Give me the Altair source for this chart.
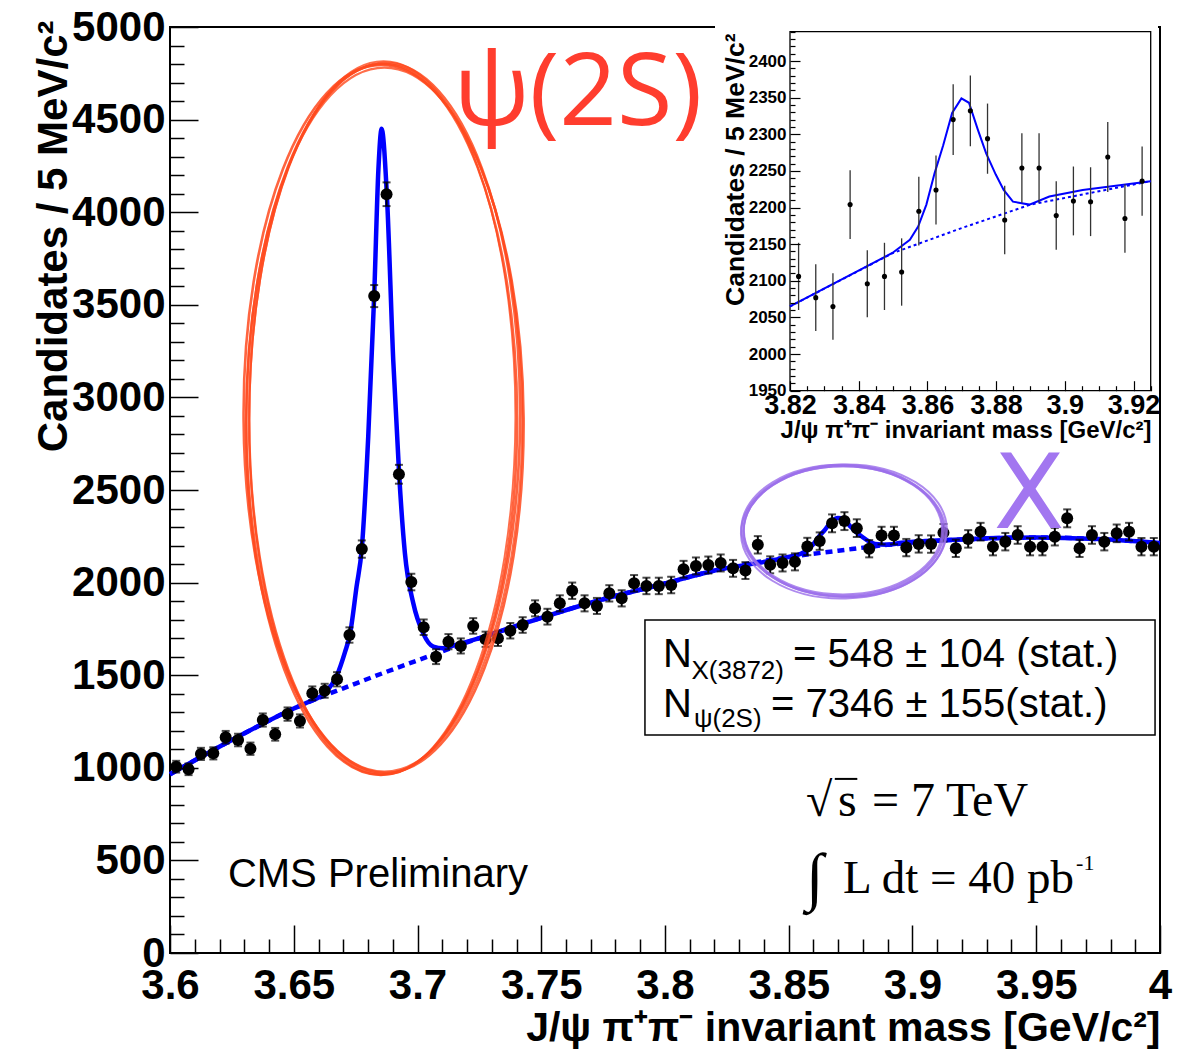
import altair as alt
import pandas as pd

# ---------------------------------------------------------------------------
# J/psi pi+ pi- candidates per 5 MeV bin, 3.600 - 4.000 GeV
# ---------------------------------------------------------------------------
BIN_LO = 3.600
BIN_W = 0.005
counts = [
    1006, 992, 1075, 1078, 1165, 1150, 1103, 1258, 1181, 1290,
    1253, 1402, 1416, 1478, 1717, 2181, 3547, 4097, 2585, 2003,
    1759, 1600, 1681, 1658, 1766, 1694, 1699, 1740, 1771, 1861,
    1816, 1888, 1956, 1888, 1874, 1942, 1915, 1996, 1982, 1982,
    1987, 2072, 2090, 2095, 2106, 2077, 2065, 2204, 2096, 2106,
    2112, 2195, 2224, 2320, 2332, 2294, 2183, 2254, 2254, 2189,
    2209, 2208, 2269, 2185, 2236, 2275, 2194, 2221, 2257, 2194,
    2194, 2248, 2347, 2185, 2257, 2221, 2266, 2275, 2194, 2194,
]
mass = [round(BIN_LO + BIN_W * (i + 0.5), 4) for i in range(len(counts))]

# background component of the fit
bkg_mass = [3.600, 3.625, 3.650, 3.675, 3.700, 3.725, 3.750, 3.775, 3.800,
            3.820, 3.850, 3.870, 3.890, 3.925, 3.950, 3.975, 4.000]
bkg_val = [965, 1150, 1320, 1455, 1580, 1700, 1810, 1910, 1995,
           2065, 2138, 2172, 2204, 2236, 2244, 2235, 2214]

# total fit (background + psi(2S) + X(3872))
fit_mass = [3.600, 3.625, 3.650, 3.655, 3.6626, 3.6673, 3.6707, 3.6727, 3.6754,
            3.6775, 3.6801, 3.6825, 3.6842, 3.6855, 3.6876, 3.6902, 3.6926,
            3.6949, 3.6983, 3.7023, 3.7064, 3.7104, 3.7150, 3.725, 3.750,
            3.775, 3.800, 3.820, 3.8498, 3.8549, 3.8573, 3.8597, 3.8621,
            3.8646, 3.8672, 3.8699, 3.8721, 3.8747, 3.8771, 3.8799, 3.8822,
            3.8849, 3.8897, 3.8955, 3.9052, 3.925, 3.950, 3.975, 4.000]
fit_val = [965, 1150, 1320, 1350, 1405, 1495, 1625, 1720, 1980,
           2185, 2790, 3550, 4230, 4450, 4100, 3200, 2580,
           2160, 1888, 1726, 1654, 1645, 1662, 1700, 1810,
           1910, 1995, 2065, 2138, 2156, 2174, 2204, 2247,
           2285, 2329, 2349, 2343, 2306, 2274, 2245, 2224,
           2208, 2204, 2215, 2224, 2236, 2244, 2235, 2214]

# axis tick positions
main_x_major = [3.6, 3.65, 3.7, 3.75, 3.8, 3.85, 3.9, 3.95, 4.0]
main_x_minor = [round(3.6 + 0.01 * i, 2) for i in range(41) if i % 5]
main_y_major = list(range(0, 5001, 500))
main_y_minor = [v for v in range(0, 5001, 100) if v % 500]
inset_x_major = [3.82, 3.84, 3.86, 3.88, 3.9, 3.92]
inset_x_minor = [round(3.82 + 0.005 * i, 3) for i in range(22) if i % 4]
inset_y_major = list(range(1950, 2401, 50))
inset_y_minor = [v for v in range(1950, 2441, 10) if v % 50]

# ---------------------------------------------------------------------------
# layout
# ---------------------------------------------------------------------------
W, H = 990, 926
INSET_X = [620, 980.7]      # pixel range of the inset frame inside the main frame
INSET_Y = [363.7, 4.7]
SANS = "Liberation Sans"
SERIF = "Liberation Serif"
BLUE = "#0000FF"

XS = alt.Scale(domain=[3.6, 4.0], nice=False, zero=False)
YS = alt.Scale(domain=[0, 5000], nice=False, zero=False)
XI = alt.Scale(domain=[3.82, 3.925], range=INSET_X, nice=False, zero=False)
YI = alt.Scale(domain=[1950, 2440], range=INSET_Y, nice=False, zero=False)

hist = pd.DataFrame({"m": mass, "n": counts})
bkg = pd.DataFrame({"m": bkg_mass, "n": bkg_val})
fit = pd.DataFrame({"m": fit_mass, "n": fit_val})


def pos(xs, ys, xf="m", yf="n"):
    return dict(x=alt.X(f"{xf}:Q", scale=xs, axis=None),
                y=alt.Y(f"{yf}:Q", scale=ys, axis=None))


def one(m, n, **extra):
    d = {"m": [m], "n": [n]}
    d.update({k: [v] for k, v in extra.items()})
    return pd.DataFrame(d)


def text(m, n, t, size, font=SANS, weight="normal", color="black", align="left"):
    return alt.Chart(one(m, n, t=t)).mark_text(
        font=font, fontSize=size, fontWeight=weight, color=color,
        align=align, baseline="alphabetic",
    ).encode(text="t:N", **pos(XS, YS))


def ellipse(m, n, rx, ry, color, width, angle=0.0, opacity=1.0):
    a = rx / ry
    path = f"M {-a:.4f} 0 A {a:.4f} 1 0 1 1 {a:.4f} 0 A {a:.4f} 1 0 1 1 {-a:.4f} 0 Z"
    return alt.Chart(one(m, n)).mark_point(
        shape=path, size=(2 * ry) ** 2, filled=False, color=color,
        strokeWidth=width, angle=angle, opacity=opacity,
    ).encode(**pos(XS, YS))


def tick_axes(xs, ys, anchor, xvals, yvals, size, x_off, y_off, width):
    common = dict(labels=False, domain=False, grid=False, title=None,
                  tickSize=size, tickColor="black", tickWidth=width, zindex=1)
    return alt.Chart(anchor).mark_point(opacity=0).encode(
        x=alt.X("m:Q", scale=xs, axis=alt.Axis(orient="top", offset=y_off, values=xvals, **common)),
        y=alt.Y("n:Q", scale=ys, axis=alt.Axis(orient="right", offset=x_off, values=yvals, **common)),
    )


# ---------------------------------------------------------------------------
# main panel
# ---------------------------------------------------------------------------
frame = alt.Chart(one(3.6, 0, m2=4.0, n2=5000)).mark_rect(
    fillOpacity=0, stroke="black", strokeWidth=2
).encode(x2="m2:Q", y2="n2:Q", **pos(XS, YS))

bkg_line = alt.Chart(bkg).mark_line(
    color=BLUE, strokeWidth=4.5, strokeDash=[7, 5], interpolate="monotone"
).encode(**pos(XS, YS))
fit_line = alt.Chart(fit).mark_line(
    color=BLUE, strokeWidth=4.5, interpolate="monotone"
).encode(**pos(XS, YS))

errs = alt.Chart(hist).transform_calculate(
    lo="datum.n - sqrt(datum.n)", hi="datum.n + sqrt(datum.n)"
)
err_bars = errs.mark_rule(color="black", strokeWidth=2).encode(
    x=alt.X("m:Q", scale=XS, axis=None), y=alt.Y("lo:Q", scale=YS, axis=None), y2="hi:Q")
cap_lo = errs.mark_tick(orient="horizontal", color="black", size=8, thickness=2).encode(
    **pos(XS, YS, yf="lo"))
cap_hi = errs.mark_tick(orient="horizontal", color="black", size=8, thickness=2).encode(
    **pos(XS, YS, yf="hi"))
points = alt.Chart(hist).mark_point(
    filled=True, color="black", size=144, shape="circle", opacity=1
).encode(**pos(XS, YS))

yield_box = alt.Chart(one(3.7919, 1177, m2=3.998, n2=1798)).mark_rect(
    fill="white", stroke="black", strokeWidth=1.5
).encode(x2="m2:Q", y2="n2:Q", **pos(XS, YS))

sqrt_bar = alt.Chart(one(3.8686, 940, m2=3.8777)).mark_rule(
    color="black", strokeWidth=2
).encode(x2="m2:Q", **pos(XS, YS))

texts = [
    text(3.7145, 4471, "ψ(2S)", 101, font="Open Sans", color="#FF3D2E"),
    text(3.9471, 2295, "X", 104, font="DejaVu Sans", color="#A276F0", align="center"),
    text(3.6234, 356, "CMS Preliminary", 40),
    text(3.7992, 1544, "N", 40),
    text(3.8107, 1480, "X(3872)", 26),
    text(3.8517, 1544, "= 548 ± 104 (stat.)", 40),
    text(3.7992, 1274, "N", 40),
    text(3.8117, 1220, "ψ(2S)", 26),
    text(3.8428, 1274, "= 7346 ± 155(stat.)", 40),
    text(3.8570, 740, "√", 48, font=SERIF),
    text(3.8699, 740, "s", 48, font=SERIF),
    text(3.8836, 740, "= 7 TeV", 48, font=SERIF),
    text(3.8570, 297, "∫", 64, font=SERIF),
    text(3.8719, 324, "L dt = 40 pb", 47, font=SERIF),
    text(3.9661, 448, "-1", 22, font=SERIF),
]

# hand-drawn rings around the two signals (several loose strands each)
ORANGE = "#FF4A1E"
PURPLE = "#9B6EEB"
rings = [
    ellipse(3.6861, 2884, 134, 355, ORANGE, 2.6, 0.0, 0.85),
    ellipse(3.6861, 2884, 137, 356, ORANGE, 2.6, 0.4, 0.85),
    ellipse(3.6863, 2884, 140, 354, ORANGE, 2.6, 359.6, 0.85),
    ellipse(3.6866, 2880, 138, 352, ORANGE, 2.2, 0.0, 0.8),
    ellipse(3.6858, 2888, 133, 357, ORANGE, 1.8, 0.2, 0.8),
    ellipse(3.8721, 2279, 100, 65, PURPLE, 2.4, 0.0, 0.85),
    ellipse(3.8721, 2279, 102, 66, PURPLE, 2.2, 1.5, 0.8),
    ellipse(3.8723, 2276, 103, 67, PURPLE, 2.0, 358.5, 0.8),
    ellipse(3.8719, 2282, 99, 64, PURPLE, 1.8, 0.0, 0.8),
]

main_anchor = one(3.6, 0)
main_axes = alt.Chart(main_anchor).mark_point(opacity=0).encode(
    x=alt.X("m:Q", scale=XS, axis=alt.Axis(
        orient="bottom", values=main_x_major, format="~g", ticks=False, tickSize=0,
        domain=False, grid=False, labelFlush=False, labelOverlap=False,
        labelFont=SANS, labelFontSize=42, labelFontWeight="bold", labelColor="black",
        labelPadding=12, zindex=1,
        title="J/ψ π⁺π⁻ invariant mass [GeV/c²]", titleFont=SANS, titleFontSize=41,
        titleFontWeight="bold", titleColor="black", titleX=W, titleY=87,
        titleAlign="right", titleBaseline="alphabetic")),
    y=alt.Y("n:Q", scale=YS, axis=alt.Axis(
        orient="left", values=main_y_major, format="d", ticks=False, tickSize=0,
        domain=False, grid=False, labelFlush=False, labelOverlap=False,
        labelFont=SANS, labelFontSize=42, labelFontWeight="bold", labelColor="black",
        labelPadding=5, zindex=1,
        title="Candidates / 5 MeV/c²", titleFont=SANS, titleFontSize=42,
        titleFontWeight="bold", titleColor="black", titleAngle=270,
        titleX=-104, titleY=-7, titleAlign="right", titleBaseline="alphabetic")),
)
main_major = tick_axes(XS, YS, main_anchor, main_x_major, main_y_major, 28, -W, -H, 1.5)
main_minor = tick_axes(XS, YS, main_anchor, main_x_minor, main_y_minor, 14, -W, -H, 1.5)

main = alt.layer(
    frame, bkg_line, fit_line, err_bars, cap_lo, cap_hi, points,
    yield_box, sqrt_bar, *texts, *rings,
    main_axes, main_major, main_minor,
).resolve_axis(x="independent", y="independent")

# ---------------------------------------------------------------------------
# inset: zoom on the X(3872) region
# ---------------------------------------------------------------------------
in_range = "datum.m >= 3.8199 && datum.m <= 3.9251"
pad = alt.Chart(one(3.82, 1950)).mark_rect(color="white").encode(
    x=alt.value(545), x2=alt.value(988), y=alt.value(-8), y2=alt.value(425))
in_frame = alt.Chart(one(3.82, 1950, m2=3.925, n2=2440)).mark_rect(
    fill="white", stroke="black", strokeWidth=1.3
).encode(x2="m2:Q", y2="n2:Q", **pos(XI, YI))
in_bkg = alt.Chart(bkg).transform_filter(in_range).mark_line(
    color=BLUE, strokeWidth=2, strokeDash=[3, 3]
).encode(**pos(XI, YI))
in_fit = alt.Chart(fit).transform_filter(in_range).mark_line(
    color=BLUE, strokeWidth=2
).encode(**pos(XI, YI))
in_errs = alt.Chart(hist).transform_filter(in_range).transform_calculate(
    lo="datum.n - sqrt(datum.n)", hi="datum.n + sqrt(datum.n)"
)
in_bars = in_errs.mark_rule(color="#333333", strokeWidth=1.3).encode(
    x=alt.X("m:Q", scale=XI, axis=None), y=alt.Y("lo:Q", scale=YI, axis=None), y2="hi:Q")
in_points = alt.Chart(hist).transform_filter(in_range).mark_point(
    filled=True, color="black", size=26, shape="circle", opacity=1
).encode(**pos(XI, YI))

inset_anchor = one(3.82, 1950)
in_axes = alt.Chart(inset_anchor).mark_point(opacity=0).encode(
    x=alt.X("m:Q", scale=XI, axis=alt.Axis(
        orient="bottom", offset=INSET_Y[0] - H, values=inset_x_major, format="~g",
        ticks=False, tickSize=0, domain=False, grid=False, labelFlush=False,
        labelOverlap=False, labelFont=SANS, labelFontSize=27, labelFontWeight="bold",
        labelColor="black", labelPadding=2, zindex=1,
        title="J/ψ π⁺π⁻ invariant mass [GeV/c²]", titleFont=SANS, titleFontSize=24,
        titleFontWeight="bold", titleColor="black", titleX=981, titleY=47,
        titleAlign="right", titleBaseline="alphabetic")),
    y=alt.Y("n:Q", scale=YI, axis=alt.Axis(
        orient="left", offset=-INSET_X[0], values=inset_y_major, format="d",
        ticks=False, tickSize=0, domain=False, grid=False, labelFlush=False,
        labelOverlap=False, labelFont=SANS, labelFontSize=17, labelFontWeight="bold",
        labelColor="black", labelPadding=4, zindex=1,
        title="Candidates / 5 MeV/c²", titleFont=SANS, titleFontSize=26.5,
        titleFontWeight="bold", titleColor="black", titleAngle=270,
        titleX=-47, titleY=6, titleAlign="right", titleBaseline="alphabetic")),
)
in_major = tick_axes(XI, YI, inset_anchor, inset_x_major, inset_y_major, 10,
                     INSET_X[0] - W, -INSET_Y[0], 1.2)
in_minor = tick_axes(XI, YI, inset_anchor, inset_x_minor, inset_y_minor, 5,
                     INSET_X[0] - W, -INSET_Y[0], 1.2)

inset = alt.layer(
    pad, in_frame, in_bkg, in_fit, in_bars, in_points, in_axes, in_major, in_minor,
).resolve_axis(x="independent", y="independent")

chart = alt.layer(main, inset).resolve_scale(
    x="independent", y="independent"
).resolve_axis(
    x="independent", y="independent"
).properties(
    width=W, height=H,
    padding={"left": 170, "top": 27, "right": 21, "bottom": 99},
    autosize=alt.AutoSizeParams(type="none"),
    background="white",
).configure_view(strokeOpacity=0)

chart.save("out.html", embed_options={"renderer": "svg", "actions": False})
